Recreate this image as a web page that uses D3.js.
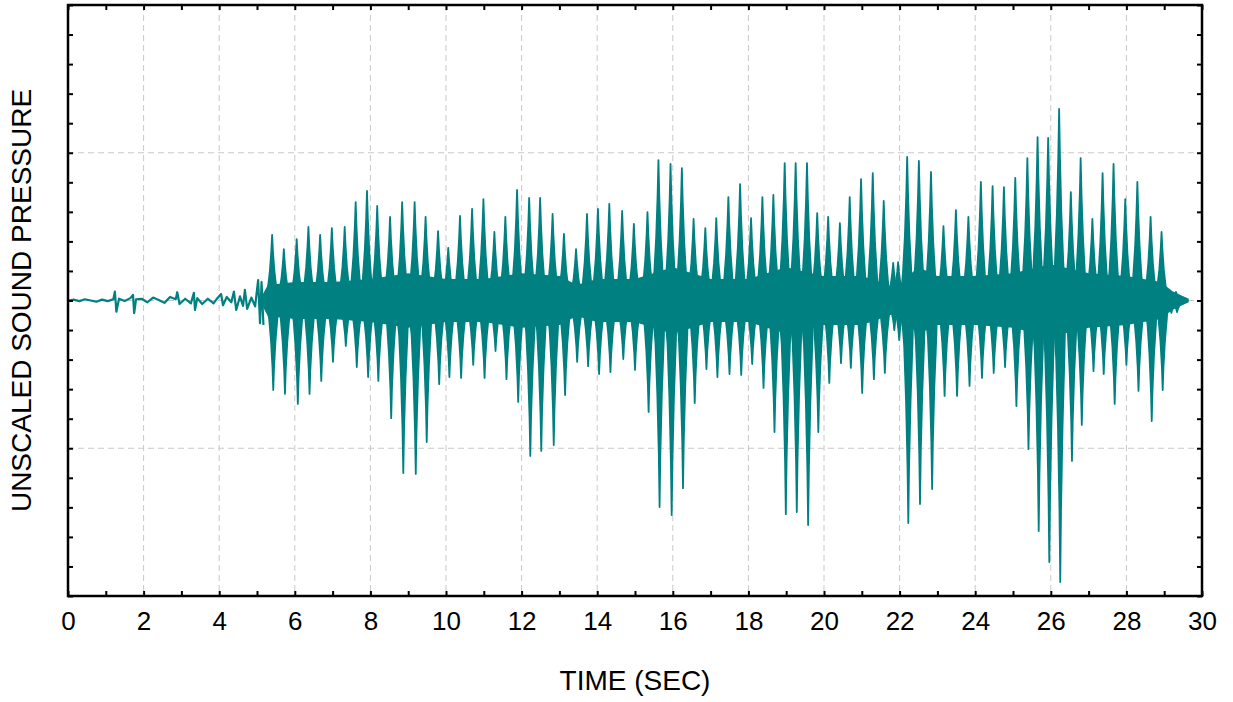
<!DOCTYPE html>
<html><head><meta charset="utf-8">
<script src="https://cdn.jsdelivr.net/npm/d3@7"></script>
<style>html,body{margin:0;padding:0;background:#fff;}svg{display:block;}</style>
</head><body>
<svg id="chart" width="1233" height="702"></svg>
<script>
// ---------- data ----------
const xTickLabels = [0,2,4,6,8,10,12,14,16,18,20,22,24,26,28,30];

// quiet pre-signal section: time (s) and value
const quietTimes = [0,0.15,0.3,0.45,0.6,0.75,0.9,1.05,1.2,1.24,1.28,1.35,1.5,1.65,1.72,1.75,1.8,1.95,2.1,2.25,2.4,2.55,2.7,2.85,2.89,2.95,3.1,3.25,3.33,3.36,3.42,3.55,3.7,3.85,3.95,4.05,4.1,4.2,4.32,4.39,4.45,4.55,4.63,4.68,4.74,4.85,4.95,5.03,5.08,5.12,5.17];
const quietValues = [0,0.003,-0.002,0.004,0,-0.004,0.003,-0.002,0.004,0.03,-0.038,0.006,-0.002,0.008,0.019,-0.043,0.004,0.006,-0.006,0.01,0.002,-0.008,0.012,0.004,0.028,-0.012,0.006,-0.01,0.026,-0.032,0.008,-0.012,0.006,-0.01,0.008,0.022,-0.016,0.012,-0.006,0.03,-0.032,0.014,-0.018,0.036,-0.028,0.01,-0.02,0.069,-0.077,0.062,-0.083];

// bursts: time (s), positive peak, negative peak
const burstTimes = [5.40,5.71,6.05,6.36,6.67,6.98,7.32,7.61,7.91,
  8.18,8.52,8.84,9.17,9.46,9.79,10.06,10.37,10.69,10.99,
  11.28,11.57,11.88,12.20,12.49,12.82,13.12,13.44,13.73,14.02,14.32,
  14.66,14.97,15.33,15.62,15.94,16.24,16.55,16.86,17.15,17.47,
  17.78,18.07,18.37,18.66,18.96,19.25,19.55,19.82,20.11,20.42,20.68,
  20.98,21.29,21.58,21.83,21.96,22.20,22.51,22.83,23.16,23.49,23.82,
  24.15,24.46,24.76,25.06,25.38,25.65,25.93,26.22,26.53,26.79,
  27.10,27.37,27.66,27.97,28.29,28.64,28.93,29.16,29.31];
const burstTops = [0.222,0.174,0.208,0.249,0.222,0.245,0.249,0.333,0.371,
  0.320,0.283,0.333,0.333,0.283,0.235,0.178,0.286,0.310,0.343,
  0.232,0.283,0.374,0.347,0.347,0.293,0.225,0.174,0.293,0.310,0.327,
  0.303,0.259,0.299,0.475,0.462,0.448,0.276,0.245,0.279,0.350,
  0.394,0.279,0.350,0.357,0.465,0.465,0.465,0.296,0.283,0.262,0.350,
  0.411,0.431,0.337,0.127,0.130,0.486,0.472,0.435,0.252,0.306,0.283,
  0.401,0.387,0.384,0.415,0.482,0.553,0.550,0.648,0.367,0.482,
  0.276,0.431,0.462,0.343,0.401,0.283,0.232,0.029,0.029];
const burstBottoms = [-0.303,-0.316,-0.350,-0.316,-0.272,-0.208,-0.154,-0.225,-0.259,
  -0.272,-0.398,-0.584,-0.587,-0.479,-0.283,-0.259,-0.262,-0.218,-0.262,
  -0.171,-0.266,-0.343,-0.526,-0.509,-0.489,-0.320,-0.208,-0.222,-0.249,-0.242,
  -0.198,-0.235,-0.377,-0.699,-0.726,-0.635,-0.347,-0.232,-0.259,-0.249,
  -0.252,-0.215,-0.296,-0.445,-0.723,-0.716,-0.760,-0.445,-0.279,-0.212,-0.228,
  -0.313,-0.266,-0.245,-0.100,-0.134,-0.753,-0.689,-0.638,-0.323,-0.323,-0.289,
  -0.262,-0.245,-0.225,-0.357,-0.503,-0.780,-0.885,-0.953,-0.543,-0.421,
  -0.239,-0.249,-0.350,-0.218,-0.306,-0.408,-0.303,-0.042,-0.039];

// dense core band: time (s) and half amplitude
const coreTimes = [5.17,5.3,6,7,8,9,10,11,12,13,13.45,14,15,16,17,18,19,20,21,21.9,22.5,23,24,25,26,27,28,28.9,29.2,29.45,29.63];
const coreAmps  = [0.02,0.05,0.06,0.06,0.07,0.09,0.07,0.07,0.09,0.08,0.05,0.07,0.07,0.11,0.07,0.07,0.11,0.08,0.08,0.04,0.11,0.08,0.08,0.09,0.12,0.09,0.08,0.06,0.03,0.015,0.004];

// ---------- chart ----------
const pL = 68, pR = 1202, pT = 5, pB = 596;
const teal = "#008080";
const font = "Liberation Sans, Arial, sans-serif";
const svg = d3.select("#chart");
const x = d3.scaleLinear().domain([0,30]).range([pL,pR]);
const y = d3.scaleLinear().domain([-1,1]).range([pB,pT]);

// grid
const grid = svg.append("g").attr("stroke","#c8c8c8").attr("stroke-width",1).attr("stroke-dasharray","6,4");
grid.selectAll("line.v").data(xTickLabels.filter(d=>d>0&&d<30)).join("line").attr("class","v")
  .attr("x1",d=>x(d)).attr("x2",d=>x(d)).attr("y1",pT).attr("y2",pB);
grid.selectAll("line.h").data([-0.5,0,0.5]).join("line").attr("class","h")
  .attr("x1",pL).attr("x2",pR).attr("y1",d=>y(d)).attr("y2",d=>y(d));

const wave = svg.append("g");
// quiet section
wave.append("path")
  .attr("d", d3.line().x((d,i)=>x(quietTimes[i])).y(d=>y(d))(quietValues))
  .attr("fill","none").attr("stroke",teal).attr("stroke-width",2.2).attr("stroke-linejoin","round");
// core band
wave.append("path")
  .attr("d", d3.area().x((d,i)=>x(coreTimes[i])).y0(d=>y(-d)).y1(d=>y(d))(coreAmps))
  .attr("fill",teal).attr("stroke",teal).attr("stroke-width",1.5);
// bursts: needle shapes drawn from the peak values
const burstLine = d3.line().x(p=>x(p[0])).y(p=>y(p[1]));
burstTimes.forEach((t,i)=>{
  const T = burstTops[i], B = burstBottoms[i];
  const pts = [
    [t-0.17,0],[t-0.11,0.2*T],[t-0.06,0.45*T],[t-0.022,0.75*T],[t,T],[t+0.022,0.75*T],[t+0.06,0.45*T],[t+0.11,0.2*T],[t+0.17,0],
    [t+0.14,0.2*B],[t+0.09,0.45*B],[t+0.05,0.75*B],[t+0.03,B],[t+0.01,0.75*B],[t-0.03,0.45*B],[t-0.08,0.2*B]
  ];
  wave.append("path").attr("d", burstLine(pts)+"Z")
    .attr("fill",teal).attr("stroke",teal).attr("stroke-width",1.8).attr("stroke-linejoin","round");
});

// axes ticks (inward)
const tick1 = d3.range(0,31,1);
const ytk = d3.range(-10,11).map(d=>d/10);
function styleTicks(g){ g.select(".domain").remove(); g.selectAll("line").attr("stroke","#000").attr("stroke-width",2); }
svg.append("g").attr("transform",`translate(0,${pB})`)
  .call(d3.axisBottom(x).tickValues(tick1).tickSize(-5).tickFormat("")).call(styleTicks);
svg.append("g").attr("transform",`translate(0,${pT})`)
  .call(d3.axisTop(x).tickValues(tick1).tickSize(-5).tickFormat("")).call(styleTicks);
svg.append("g").attr("transform",`translate(${pL},0)`)
  .call(d3.axisLeft(y).tickValues(ytk).tickSize(-5).tickFormat("")).call(styleTicks);
svg.append("g").attr("transform",`translate(${pR},0)`)
  .call(d3.axisRight(y).tickValues(ytk).tickSize(-5).tickFormat("")).call(styleTicks);

// tick labels
svg.append("g").attr("transform",`translate(0,${pB})`)
  .call(d3.axisBottom(x).tickValues(xTickLabels).tickSize(0).tickPadding(16).tickFormat(d3.format("d")))
  .call(g=>{g.select(".domain").remove();
    g.selectAll("text").attr("font-family",font).attr("font-size",26).attr("fill","#000");});

// frame
svg.append("rect").attr("x",pL).attr("y",pT).attr("width",pR-pL).attr("height",pB-pT)
  .attr("fill","none").attr("stroke","#000").attr("stroke-width",2.5);

// axis titles
svg.append("text").attr("x",(pL+pR)/2).attr("y",690).attr("text-anchor","middle")
  .attr("font-family",font).attr("font-size",28).text("TIME (SEC)");
svg.append("text").attr("transform",`translate(31,${(pT+pB)/2}) rotate(-90)`).attr("text-anchor","middle")
  .attr("font-family",font).attr("font-size",28).text("UNSCALED SOUND PRESSURE");
</script>
</body></html>
